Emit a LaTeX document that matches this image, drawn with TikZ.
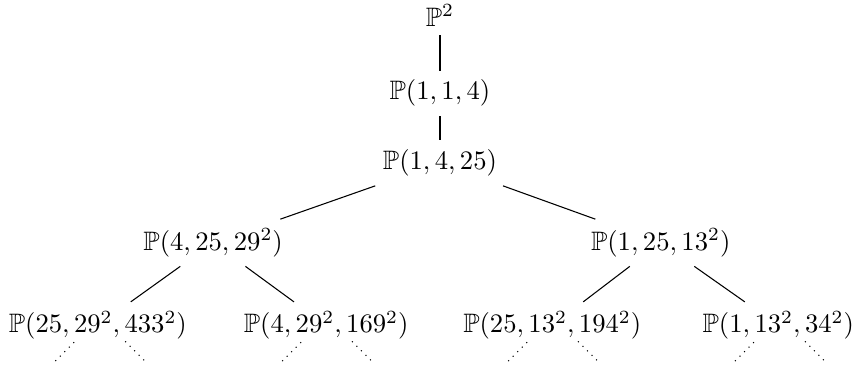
\documentclass[tikz,border=0pt]{standalone}
\usepackage{amssymb}
\begin{document}
\begin{tikzpicture}
  \useasboundingbox (-5.80, 0.2) rectangle (5.51, -4.64);
  % Nodes
  \node (p2) at (0, 0) {$\mathbb{P}^2$};
  \node (p114) at (0, -1.03) {$\mathbb{P}(1,1,4)$};
  \node (p1425) at (0, -1.95) {$\mathbb{P}(1,4,25)$};
  \node (pl) at (-2.99, -3.0) {$\mathbb{P}(4,25,29^2)$};
  \node (pr) at (2.91, -3.0) {$\mathbb{P}(1,25,13^2)$};
  \node (pll) at (-4.51, -4.09) {$\mathbb{P}(25,29^2,433^2)$};
  \node (plr) at (-1.50, -4.09) {$\mathbb{P}(4,29^2,169^2)$};
  \node (prl) at (1.48, -4.09) {$\mathbb{P}(25,13^2,194^2)$};
  \node (prr) at (4.46, -4.09) {$\mathbb{P}(1,13^2,34^2)$};
  % Dots
  \coordinate (a1) at (-5.07, -4.56); \coordinate (a2) at (-4.81, -4.30);
  \coordinate (b1) at (-4.15, -4.30); \coordinate (b2) at (-3.89, -4.56);
  \coordinate (c1) at (-2.08, -4.56); \coordinate (c2) at (-1.82, -4.30);
  \coordinate (d1) at (-1.16, -4.30); \coordinate (d2) at (-0.90, -4.56);
  \coordinate (e1) at (0.90, -4.56); \coordinate (e2) at (1.16, -4.30);
  \coordinate (f1) at (1.82, -4.30); \coordinate (f2) at (2.08, -4.56);
  \coordinate (g1) at (3.89, -4.56); \coordinate (g2) at (4.15, -4.30);
  \coordinate (h1) at (4.81, -4.30); \coordinate (h2) at (5.07, -4.56);
  % Edges
  \draw (p2) -- (p114);
  \draw (p114) -- (p1425);
  \draw (p1425) -- (pl);
  \draw (p1425) -- (pr);
  \draw (pl) -- (pll);
  \draw (pl) -- (plr);
  \draw (pr) -- (prl);
  \draw (pr) -- (prr);
  \draw[dotted] (a1) -- (a2);
  \draw[dotted] (b1) -- (b2);
  \draw[dotted] (c1) -- (c2);
  \draw[dotted] (d1) -- (d2);
  \draw[dotted] (e1) -- (e2);
  \draw[dotted] (f1) -- (f2);
  \draw[dotted] (g1) -- (g2);
  \draw[dotted] (h1) -- (h2);
\end{tikzpicture}
\end{document}
